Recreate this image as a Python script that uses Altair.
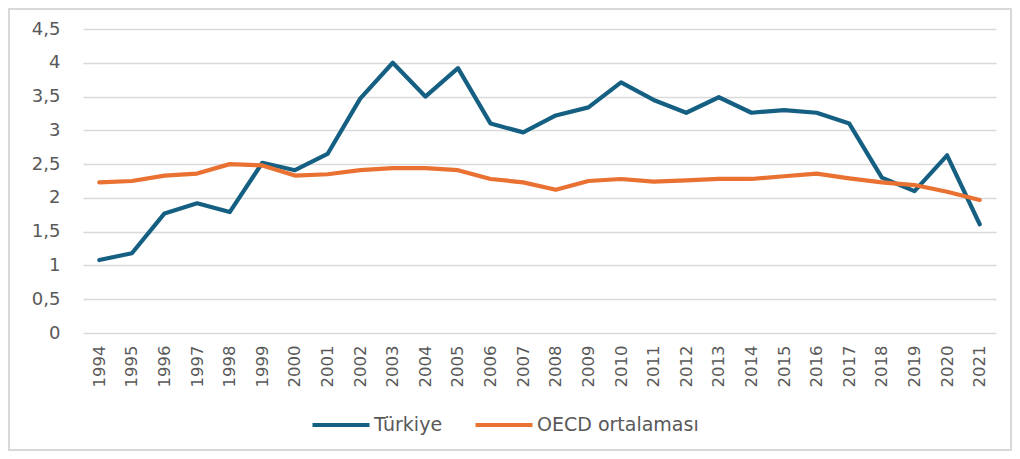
import altair as alt
import pandas as pd

years = [str(y) for y in range(1994, 2022)]
turkiye = [1.08, 1.18, 1.77, 1.92, 1.79, 2.52, 2.41, 2.65, 3.47, 4.00,
           3.50, 3.92, 3.10, 2.97, 3.22, 3.34, 3.71, 3.45, 3.26, 3.49,
           3.26, 3.30, 3.26, 3.10, 2.30, 2.10, 2.63, 1.61]
oecd = [2.23, 2.25, 2.33, 2.36, 2.50, 2.48, 2.33, 2.35, 2.41, 2.44,
        2.44, 2.41, 2.28, 2.23, 2.12, 2.25, 2.28, 2.24, 2.26, 2.28,
        2.28, 2.32, 2.36, 2.29, 2.23, 2.19, 2.09, 1.97]
series_names = ["Türkiye", "OECD ortalaması"]
colors = ["#156082", "#E97132"]
y_ticks = [0, 0.5, 1, 1.5, 2, 2.5, 3, 3.5, 4, 4.5]

df = pd.DataFrame({
    "year": years + years,
    "series": [series_names[0]] * len(years) + [series_names[1]] * len(years),
    "value": turkiye + oecd,
})

FONT = "DejaVu Sans"
GREY = "#595959"

lines = alt.Chart(df).mark_line(strokeWidth=4.2, strokeCap="round", strokeJoin="round").encode(
    x=alt.X("year:O", sort=years, axis=alt.Axis(
        title=None, labelAngle=270, labelAlign="right", labelBaseline="middle",
        labelPadding=12, ticks=False, tickSize=0, domain=False, grid=False,
        labelFontSize=16.5, labelColor=GREY, labelFont=FONT)),
    y=alt.Y("value:Q", scale=alt.Scale(domain=[0, 4.5], nice=False), axis=alt.Axis(
        title=None, values=y_ticks,
        labelExpr="replace(toString(datum.value), '.', ',')",
        ticks=False, tickSize=0, domain=False, labelPadding=23,
        labelFontSize=18, labelColor=GREY, labelFont=FONT,
        grid=True, gridColor="#d9d9d9", gridWidth=1.5)),
    color=alt.Color("series:N", scale=alt.Scale(domain=series_names, range=colors),
        legend=alt.Legend(title=None, orient="none", legendX=227, legendY=365,
                          direction="horizontal", symbolType="stroke", symbolSize=3249,
                          symbolStrokeWidth=4.2, labelFontSize=19, labelColor=GREY,
                          labelFont=FONT, columnPadding=24, labelOffset=2,
                          labelLimit=400)),
)

border = alt.Chart(pd.DataFrame({"k": [0]})).mark_rect(
    fill="transparent", stroke="#d9d9d9", strokeWidth=2
).encode(x=alt.value(-74), x2=alt.value(928), y=alt.value(-20), y2=alt.value(421))

chart = alt.layer(border, lines).properties(
    width=913, height=304,
    autosize=alt.AutoSizeParams(type="none"),
    padding={"left": 75, "top": 21, "right": 16, "bottom": 118},
).configure_view(stroke=None)

chart.save("out.html", embed_options={"renderer": "svg", "actions": False})
